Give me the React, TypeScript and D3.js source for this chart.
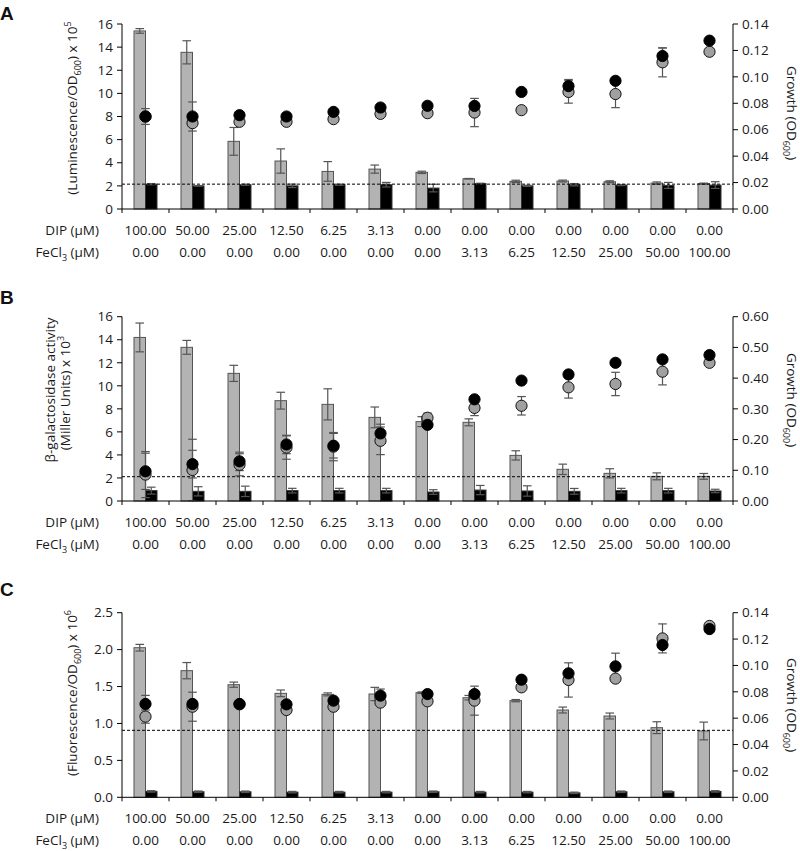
import React from "react";
import * as d3 from "d3";

const dipLabels = ["100.00", "50.00", "25.00", "12.50", "6.25", "3.13", "0.00", "0.00", "0.00", "0.00", "0.00", "0.00", "0.00"];
const feLabels = ["0.00", "0.00", "0.00", "0.00", "0.00", "0.00", "0.00", "3.13", "6.25", "12.50", "25.00", "50.00", "100.00"];

// Panel A
const greyBarA = [15.4, 13.55, 5.85, 4.15, 3.25, 3.45, 3.17, 2.62, 2.39, 2.42, 2.36, 2.24, 2.19];
const greyBarErrA = [0.2, 1.0, 1.2, 1.05, 0.85, 0.35, 0.1, 0.02, 0.1, 0.08, 0.08, 0.1, 0.05];
const blackBarA = [2.15, 2.0, 2.1, 2.0, 2.1, 2.1, 1.81, 2.2, 2.0, 2.1, 2.07, 2.04, 2.07];
const blackBarErrA = [0.05, 0.03, 0.05, 0.15, 0.05, 0.2, 0.33, 0.03, 0.05, 0.1, 0.05, 0.26, 0.29];
const growthGreyA = [0.07, 0.065, 0.066, 0.066, 0.068, 0.072, 0.0725, 0.073, 0.0748, 0.0886, 0.087, 0.111, 0.119];
const growthGreyErrA = [0, 0, 0, 0, 0, 0, 0, 0.0107, 0, 0.0085, 0.0103, 0.011, 0];
const growthBlackA = [0.07, 0.07, 0.071, 0.07, 0.0735, 0.0768, 0.0781, 0.078, 0.0886, 0.093, 0.097, 0.1158, 0.1274];
const growthBlackErrA = [0.006, 0.011, 0, 0, 0, 0, 0, 0, 0, 0.005, 0, 0.006, 0];
const cutoffA = 2.15;

// Panel B
const greyBarB = [14.2, 13.34, 11.08, 8.71, 8.39, 7.26, 6.89, 6.83, 3.96, 2.75, 2.4, 2.14, 2.14];
const greyBarErrB = [1.25, 0.6, 0.7, 0.73, 1.35, 0.9, 0.43, 0.3, 0.4, 0.45, 0.4, 0.3, 0.25];
const blackBarB = [0.9, 0.84, 0.84, 0.9, 0.9, 0.9, 0.78, 0.95, 0.87, 0.84, 0.9, 0.9, 0.87];
const blackBarErrB = [0.3, 0.4, 0.45, 0.2, 0.2, 0.2, 0.2, 0.4, 0.45, 0.25, 0.2, 0.2, 0.15];
const growthGreyB = [0.086, 0.101, 0.118, 0.174, 0.177, 0.196, 0.271, 0.303, 0.31, 0.37, 0.381, 0.421, 0.45];
const growthGreyErrB = [0.075, 0.1, 0.036, 0.038, 0.046, 0.045, 0.015, 0.025, 0.03, 0.035, 0.038, 0.043, 0];
const growthBlackB = [0.0966, 0.12, 0.129, 0.184, 0.18, 0.22, 0.248, 0.331, 0.392, 0.412, 0.45, 0.461, 0.475];
const growthBlackErrB = [0.059, 0.045, 0.03, 0.03, 0.04, 0.03, 0, 0, 0, 0, 0, 0, 0];
const cutoffB = 2.11;

// Panel C
const greyBarC = [2.026, 1.715, 1.525, 1.408, 1.394, 1.399, 1.417, 1.349, 1.309, 1.182, 1.101, 0.943, 0.898];
const greyBarErrC = [0.045, 0.11, 0.035, 0.045, 0.02, 0.09, 0.01, 0.03, 0.015, 0.04, 0.04, 0.08, 0.12];
const blackBarC = [0.08, 0.075, 0.075, 0.07, 0.07, 0.07, 0.075, 0.07, 0.07, 0.06, 0.075, 0.075, 0.08];
const blackBarErrC = [0.01, 0.01, 0.01, 0.01, 0.01, 0.01, 0.01, 0.01, 0.01, 0.01, 0.01, 0.01, 0.01];
const growthGreyC = [0.0612, 0.0687, 0.0705, 0.0662, 0.0687, 0.0718, 0.0728, 0.0733, 0.0834, 0.089, 0.09, 0.1205, 0.13];
const growthGreyErrC = [0.005, 0.011, 0, 0, 0, 0, 0, 0.011, 0, 0.013, 0, 0.011, 0];
const growthBlackC = [0.0708, 0.0708, 0.0708, 0.0705, 0.0733, 0.0771, 0.0783, 0.0783, 0.0892, 0.094, 0.0993, 0.1155, 0.1276];
const growthBlackErrC = [0.0065, 0, 0, 0, 0, 0.005, 0, 0, 0, 0, 0.01, 0, 0];
const cutoffC = 0.907;

const ticksA = d3.range(0, 16.01, 2);
const ticksRightA = d3.range(0, 0.1401, 0.02);
const ticksB = d3.range(0, 16.01, 2);
const ticksRightB = d3.range(0, 0.601, 0.1);
const ticksC = d3.range(0, 2.501, 0.5);
const ticksRightC = d3.range(0, 0.1401, 0.02);

const FONT = "'Open Sans', sans-serif";
const X0 = 122;
const X1 = 733;

type PanelProps = {
  letter: string;
  letterY: number;
  top: number;
  bottom: number;
  leftDomain: [number, number];
  rightDomain: [number, number];
  leftTicks: number[];
  rightTicks: number[];
  leftFmt: (v: number) => string;
  rightFmt: (v: number) => string;
  greyBar: number[];
  greyBarErr: number[];
  blackBar: number[];
  blackBarErr: number[];
  gGrey: number[];
  gGreyErr: number[];
  gBlack: number[];
  gBlackErr: number[];
  cutoff: number;
  leftLabel: React.ReactNode;
  rightLabelY: number;
};

const ERR = "#555";

function ErrBar({ x, y1, y2 }: { x: number; y1: number; y2: number }) {
  const cw = 4.3;
  return (
    <g stroke={ERR} strokeWidth={1.2}>
      <line x1={x} x2={x} y1={y1} y2={y2} />
      <line x1={x - cw} x2={x + cw} y1={y1} y2={y1} />
      <line x1={x - cw} x2={x + cw} y1={y2} y2={y2} />
    </g>
  );
}

function Panel(p: PanelProps) {
  const x = d3.scaleBand<number>().domain(d3.range(13)).range([X0, X1]).paddingInner(0).paddingOuter(0);
  const yL = d3.scaleLinear().domain(p.leftDomain).range([p.bottom, p.top]);
  const yR = d3.scaleLinear().domain(p.rightDomain).range([p.bottom, p.top]);
  const bw = 11.5;
  const bounds = d3.range(14).map((i) => (i < 13 ? (x(i) as number) : X1));
  return (
    <g fontFamily={FONT} fontSize={13.5} fill="#1a1a1a">
      <text x={0} y={p.letterY} fontSize={19} fontWeight="bold" fontFamily="'Liberation Sans', Arial, sans-serif" fill="#111">{p.letter}</text>
      {d3.range(13).map((i) => {
        const c = (x(i) as number) + x.bandwidth() / 2;
        return (
          <g key={"b" + i}>
            <rect x={c - bw} y={yL(p.greyBar[i])} width={bw} height={p.bottom - yL(p.greyBar[i])} fill="#b3b3b3" stroke="#555" strokeWidth={1} />
            <rect x={c} y={yL(p.blackBar[i])} width={bw} height={p.bottom - yL(p.blackBar[i])} fill="#000" stroke="#333" strokeWidth={1} />
          </g>
        );
      })}
      {d3.range(13).map((i) => {
        const c = (x(i) as number) + x.bandwidth() / 2;
        return (
          <g key={"e" + i}>
            {p.greyBarErr[i] > 0 && (
              <ErrBar x={c - bw / 2} y1={yL(p.greyBar[i] + p.greyBarErr[i])} y2={yL(p.greyBar[i] - p.greyBarErr[i])} />
            )}
            {p.blackBarErr[i] > 0 && (
              <ErrBar x={c + bw / 2} y1={yL(p.blackBar[i] + p.blackBarErr[i])} y2={yL(p.blackBar[i] - p.blackBarErr[i])} />
            )}
          </g>
        );
      })}
      <line x1={X0} x2={X1} y1={yL(p.cutoff)} y2={yL(p.cutoff)} stroke="#000" strokeWidth={1} strokeDasharray="3,2" />
      {d3.range(13).map((i) => {
        const c = (x(i) as number) + x.bandwidth() / 2;
        return (
          <g key={"g" + i}>
            {p.gGreyErr[i] > 0 && (
              <ErrBar x={c} y1={yR(p.gGrey[i] + p.gGreyErr[i])} y2={yR(p.gGrey[i] - p.gGreyErr[i])} />
            )}
            {p.gBlackErr[i] > 0 && (
              <ErrBar x={c} y1={yR(p.gBlack[i] + p.gBlackErr[i])} y2={yR(p.gBlack[i] - p.gBlackErr[i])} />
            )}
            <circle cx={c} cy={yR(p.gGrey[i])} r={5.6} fill="#a0a0a0" stroke="#111" strokeWidth={1} />
            <circle cx={c} cy={yR(p.gBlack[i])} r={5.6} fill="#000" stroke="#000" strokeWidth={1} />
          </g>
        );
      })}
      <g stroke="#000" strokeWidth={1}>
        <line x1={X0} x2={X0} y1={p.top} y2={p.bottom} />
        <line x1={X1} x2={X1} y1={p.top} y2={p.bottom} />
        <line x1={X0} x2={X1} y1={p.bottom} y2={p.bottom} />
        {p.leftTicks.map((t) => (
          <line key={"lt" + t} x1={X0 - 5} x2={X0} y1={yL(t)} y2={yL(t)} />
        ))}
        {p.rightTicks.map((t) => (
          <line key={"rt" + t} x1={X1} x2={X1 + 5} y1={yR(t)} y2={yR(t)} />
        ))}
        {bounds.map((b, i) => (
          <line key={"xt" + i} x1={b} x2={b} y1={p.bottom} y2={p.bottom + 4} />
        ))}
      </g>
      {p.leftTicks.map((t) => (
        <text key={"ll" + t} x={X0 - 9} y={yL(t)} dy="0.35em" textAnchor="end">{p.leftFmt(t)}</text>
      ))}
      {p.rightTicks.map((t) => (
        <text key={"rl" + t} x={X1 + 9} y={yR(t)} dy="0.35em" textAnchor="start">{p.rightFmt(t)}</text>
      ))}
      {dipLabels.map((l, i) => (
        <text key={"d" + i} x={(x(i) as number) + x.bandwidth() / 2} y={p.bottom + 26} textAnchor="middle">{l}</text>
      ))}
      {feLabels.map((l, i) => (
        <text key={"f" + i} x={(x(i) as number) + x.bandwidth() / 2} y={p.bottom + 48} textAnchor="middle">{l}</text>
      ))}
      <text x={99} y={p.bottom + 26} textAnchor="end">DIP (µM)</text>
      <text x={99} y={p.bottom + 48} textAnchor="end">
        FeCl<tspan dy="4" fontSize={9}>3</tspan><tspan dy="-4"> (µM)</tspan>
      </text>
      {p.leftLabel}
      <text transform={`translate(787,${p.rightLabelY}) rotate(90)`} textAnchor="middle">
        Growth (OD<tspan dy="4" fontSize={9}>600</tspan><tspan dy="-4">)</tspan>
      </text>
    </g>
  );
}

const f0 = (v: number) => d3.format("d")(v);
const f1 = (v: number) => d3.format(".1f")(v);
const f2 = (v: number) => d3.format(".2f")(v);

export default function App() {
  return (
    <svg width={800} height={851} style={{ position: "absolute", left: 0, top: 0, background: "#fff" }}>
      <rect width={800} height={851} fill="#fff" />
      <Panel
        letter="A"
        letterY={20}
        top={24}
        bottom={209}
        leftDomain={[0, 16]}
        rightDomain={[0, 0.14]}
        leftTicks={ticksA}
        rightTicks={ticksRightA}
        leftFmt={f0}
        rightFmt={f2}
        greyBar={greyBarA}
        greyBarErr={greyBarErrA}
        blackBar={blackBarA}
        blackBarErr={blackBarErrA}
        gGrey={growthGreyA}
        gGreyErr={growthGreyErrA}
        gBlack={growthBlackA}
        gBlackErr={growthBlackErrA}
        cutoff={cutoffA}
        rightLabelY={113}
        leftLabel={
          <text transform="translate(77,108) rotate(-90)" textAnchor="middle" fontFamily={FONT} fontSize={13.5}>
            (Luminescence/OD<tspan dy="4" fontSize={9}>600</tspan><tspan dy="-4">) x 10</tspan><tspan dy="-6" fontSize={9}>5</tspan>
          </text>
        }
      />
      <Panel
        letter="B"
        letterY={304}
        top={316.7}
        bottom={501}
        leftDomain={[0, 16]}
        rightDomain={[0, 0.6]}
        leftTicks={ticksB}
        rightTicks={ticksRightB}
        leftFmt={f0}
        rightFmt={f2}
        greyBar={greyBarB}
        greyBarErr={greyBarErrB}
        blackBar={blackBarB}
        blackBarErr={blackBarErrB}
        gGrey={growthGreyB}
        gGreyErr={growthGreyErrB}
        gBlack={growthBlackB}
        gBlackErr={growthBlackErrB}
        cutoff={cutoffB}
        rightLabelY={400}
        leftLabel={
          <g fontFamily={FONT} fontSize={13.5}>
            <text transform="translate(55,390) rotate(-90)" textAnchor="middle">β-galactosidase activity</text>
            <text transform="translate(70,393) rotate(-90)" textAnchor="middle">
              (Miller Units) x 10<tspan dy="-6" fontSize={9}>3</tspan>
            </text>
          </g>
        }
      />
      <Panel
        letter="C"
        letterY={596}
        top={612.7}
        bottom={797.3}
        leftDomain={[0, 2.5]}
        rightDomain={[0, 0.14]}
        leftTicks={ticksC}
        rightTicks={ticksRightC}
        leftFmt={f1}
        rightFmt={f2}
        greyBar={greyBarC}
        greyBarErr={greyBarErrC}
        blackBar={blackBarC}
        blackBarErr={blackBarErrC}
        gGrey={growthGreyC}
        gGreyErr={growthGreyErrC}
        gBlack={growthBlackC}
        gBlackErr={growthBlackErrC}
        cutoff={cutoffC}
        rightLabelY={705}
        leftLabel={
          <text transform="translate(77,693) rotate(-90)" textAnchor="middle" fontFamily={FONT} fontSize={13.5}>
            (Fluorescence/OD<tspan dy="4" fontSize={9}>600</tspan><tspan dy="-4">) x 10</tspan><tspan dy="-6" fontSize={9}>6</tspan>
          </text>
        }
      />
    </svg>
  );
}
